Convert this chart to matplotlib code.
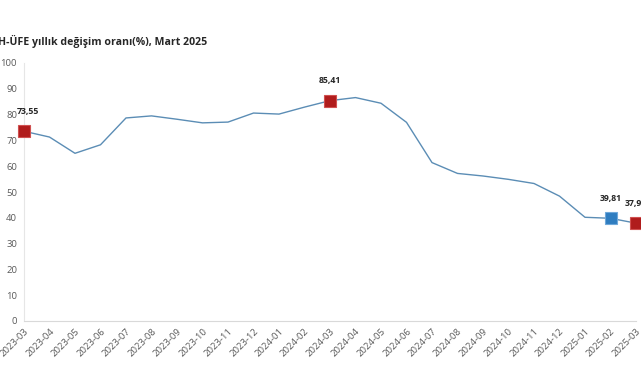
import matplotlib
matplotlib.use("Agg")
import matplotlib.pyplot as plt

months = ["2023-03","2023-04","2023-05","2023-06","2023-07","2023-08","2023-09",
          "2023-10","2023-11","2023-12","2024-01","2024-02","2024-03","2024-04",
          "2024-05","2024-06","2024-07","2024-08","2024-09","2024-10","2024-11",
          "2024-12","2025-01","2025-02","2025-03"]
values = [73.55, 71.3, 65.0, 68.3, 78.7, 79.5, 78.2, 76.8, 77.1, 80.6, 80.2, 82.9,
          85.41, 86.6, 84.4, 77.0, 61.4, 57.2, 56.2, 54.9, 53.3, 48.4, 40.2, 39.81, 37.92]
highlight_red = ["2023-03", "2024-03", "2025-03"]
highlight_blue = ["2025-02"]
title = "H-ÜFE yıllık değişim oranı(%), Mart 2025"

plt.rcParams['font.family'] = ['Open Sans', 'DejaVu Sans']

fig = plt.figure(figsize=(6.41, 3.80), dpi=100)
ax = fig.add_axes([24/641, 1-321/380, (636-24)/641, (321-63)/380])

x = list(range(len(months)))
ax.plot(x, values, color="#5B8DB5", lw=1.0, zorder=2)

def label(v):
    return f"{v:.2f}".replace(".", ",")

for m, col, ec in [(highlight_red, "#B01C1C", "#D05050"), (highlight_blue, "#2F7DC0", "#6FA8DA")]:
    for mm in m:
        i = months.index(mm)
        ax.plot(i, values[i], marker="s", ms=8.5, color=col, mec=ec, mew=0.8, zorder=3, clip_on=False)
        dx = 2.5 if i == 0 else 0
        ax.annotate(label(values[i]), (i, values[i]), xytext=(dx, 11), textcoords="offset points",
                    ha="center", va="bottom", fontsize=6.3, fontweight="bold", color="#262626",
                    annotation_clip=False)

ax.set_xlim(0, len(months)-1)
ax.set_ylim(0, 100)
ax.set_yticks(range(0, 101, 10))
ax.set_xticks(x)
ax.set_xticklabels(months, rotation=45, ha="right", rotation_mode="anchor")
ax.tick_params(axis="both", length=0, labelsize=6.8, colors="#595959")
ax.tick_params(axis="y", pad=5)
ax.tick_params(axis="x", pad=4)
for s in ["top", "right"]:
    ax.spines[s].set_visible(False)
ax.spines["left"].set_color("#E6E6E6")
ax.spines["bottom"].set_color("#D9D9D9")
ax.spines["left"].set_linewidth(0.8)
ax.spines["bottom"].set_linewidth(0.8)

fig.text(-0.003, 1-41/380, title, fontsize=7.6, fontweight="bold", color="#262626", ha="left", va="center")

fig.savefig("out.png", dpi=100)
